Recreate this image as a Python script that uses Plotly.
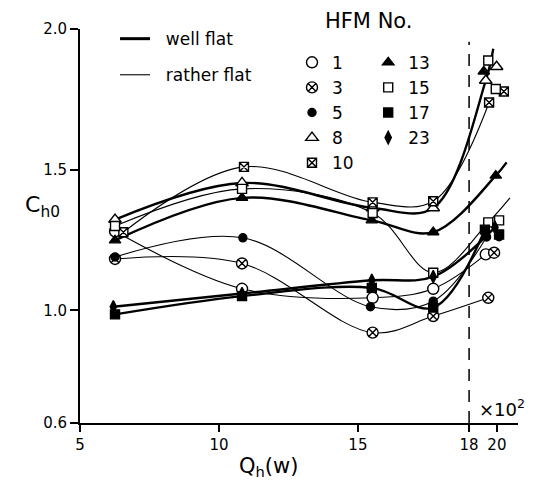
import plotly.graph_objects as go

# ---- data (Q_h in units of 10^2 W, C_h0) ----
S1_X = [6.26, 10.83, 15.53, 17.71, 19.60]
S1_Y = [1.281, 1.077, 1.045, 1.077, 1.199]

S3_X = [6.26, 10.83, 15.53, 17.71, 19.69]
S3_Y = [1.183, 1.167, 0.921, 0.980, 1.045]
S3_EX_X = [19.90]
S3_EX_Y = [1.205]

S5_X = [6.26, 10.86, 15.45, 17.71, 19.63]
S5_Y = [1.190, 1.258, 1.013, 1.033, 1.261]
S5_EX_X = [20.08]
S5_EX_Y = [1.262]

S8_X = [6.26, 10.83, 15.53, 17.71, 19.60]
S8_Y = [1.323, 1.453, 1.364, 1.364, 1.817]
S8_EX_X = [19.99]
S8_EX_Y = [1.866]
S8_TAIL_X = [19.87]
S8_TAIL_Y = [1.930]

S10_X = [6.56, 10.90, 15.53, 17.71, 19.72]
S10_Y = [1.278, 1.510, 1.384, 1.388, 1.739]
S10_EX_X = [20.25]
S10_EX_Y = [1.778]

S13_X = [6.26, 10.83, 15.50, 17.71, 19.96]
S13_Y = [1.249, 1.400, 1.320, 1.278, 1.479]
S13_EX_X = [19.53]
S13_EX_Y = [1.849]
S13_TAIL_X = [20.35]
S13_TAIL_Y = [1.526]

S15_X = [6.26, 10.83, 15.53, 17.71, 19.69]
S15_Y = [1.300, 1.432, 1.346, 1.134, 1.313]
S15_EX_X = [20.08, 19.69, 19.96]
S15_EX_Y = [1.320, 1.888, 1.787]
S15_TAIL_X = [20.47]
S15_TAIL_Y = [1.400]

S17_X = [6.26, 10.83, 15.50, 17.71, 19.57]
S17_Y = [0.986, 1.051, 1.080, 1.010, 1.287]
S17_EX_X = [20.08]
S17_EX_Y = [1.270]

S23_X = [6.20, 10.83, 15.50, 17.71, 19.93]
S23_Y = [1.013, 1.060, 1.107, 1.120, 1.295]

X_TICKS = [5, 10, 15, 19, 20]
X_TICKTEXT = ["5", "10", "15", "18", "20"]
Y_TICKS = [0.6, 1.0, 1.5, 2.0]
Y_TICKTEXT = ["0.6", "1.0", "1.5", "2.0"]
LIMIT_X = 19.0

series = [
    # name, x, y, extra x, extra y, tail x, tail y, symbol, fill, size, thick, legend
    ("1", S1_X, S1_Y, [], [], [], [], "circle", "white", 11, False, "legend"),
    ("3", S3_X, S3_Y, S3_EX_X, S3_EX_Y, [], [], "circle-x", "white", 11, False, "legend"),
    ("5", S5_X, S5_Y, S5_EX_X, S5_EX_Y, [], [], "circle", "black", 8, False, "legend"),
    ("8", S8_X, S8_Y, S8_EX_X, S8_EX_Y, S8_TAIL_X, S8_TAIL_Y, "triangle-up", "white", 11, True, "legend"),
    ("10", S10_X, S10_Y, S10_EX_X, S10_EX_Y, [], [], "square-x", "white", 9, False, "legend"),
    ("13", S13_X, S13_Y, S13_EX_X, S13_EX_Y, S13_TAIL_X, S13_TAIL_Y, "triangle-up", "black", 10, True, "legend3"),
    ("15", S15_X, S15_Y, S15_EX_X, S15_EX_Y, S15_TAIL_X, S15_TAIL_Y, "square", "white", 9, False, "legend3"),
    ("17", S17_X, S17_Y, S17_EX_X, S17_EX_Y, [], [], "square", "black", 9, True, "legend3"),
    ("23", S23_X, S23_Y, [], [], [], [], "diamond-tall", "black", 9, True, "legend3"),
]

fig = go.Figure()

# curves
for name, x, y, ex, ey, tx, ty, sym, fill, size, thick, lg in series:
    fig.add_trace(go.Scatter(
        x=x + tx, y=y + ty, mode="lines",
        line=dict(color="black", width=2.4 if thick else 1.1, shape="spline", smoothing=1.0),
        showlegend=False, hoverinfo="skip"))

# markers
for name, x, y, ex, ey, tx, ty, sym, fill, size, thick, lg in series:
    fig.add_trace(go.Scatter(
        x=x + ex, y=y + ey, mode="markers", name=name, legend=lg,
        marker=dict(symbol=sym, size=size, color=fill, line=dict(color="black", width=1.4)),
        showlegend=True))

# line-style key
fig.add_trace(go.Scatter(x=[None], y=[None], mode="lines", name="  well flat",
                         line=dict(color="black", width=3), legend="legend2", legendgroup="a"))
fig.add_trace(go.Scatter(x=[None], y=[None], mode="lines", name="  rather flat",
                         line=dict(color="black", width=1.1), legend="legend2", legendgroup="b"))

fig.add_shape(type="line", x0=LIMIT_X, x1=LIMIT_X, y0=0.6, y1=1.955,
              line=dict(color="black", width=1.5, dash="12px,9px"), layer="below")

FONT = "DejaVu Sans"
fig.add_annotation(text="HFM No.", x=0.66, y=1.055, xref="paper", yref="paper",
                   showarrow=False, font=dict(size=21, family=FONT, color="black"))
fig.add_annotation(text="C<sub>h0</sub>", x=-0.13, y=0.55, xref="paper", yref="paper",
                   showarrow=False, font=dict(size=22, family=FONT, color="black"))
fig.add_annotation(text="Q<sub>h</sub>(w)", x=0.43, y=-0.15, xref="paper", yref="paper",
                   showarrow=False, font=dict(size=21, family=FONT, color="black"))
fig.add_annotation(text="×10<sup>2</sup>", x=20.2, y=0.605, xanchor="center", yanchor="bottom",
                   showarrow=False, font=dict(size=18, family=FONT, color="black"))

leg_common = dict(bgcolor="rgba(0,0,0,0)", borderwidth=0, xanchor="left", yanchor="top",
                  font=dict(size=17, family=FONT, color="black"))
fig.update_layout(
    width=543, height=485,
    margin=dict(l=80, r=25, t=29, b=62),
    paper_bgcolor="white", plot_bgcolor="white",
    font=dict(family=FONT, color="black", size=15),
    xaxis=dict(range=[5, 20.76], tickvals=X_TICKS, ticktext=X_TICKTEXT, showgrid=False,
               zeroline=False, showline=True, linecolor="black", linewidth=2,
               ticks="outside", ticklen=7, tickwidth=1.5, tickcolor="black",
               tickfont=dict(size=15)),
    yaxis=dict(range=[0.6, 2.0], tickvals=Y_TICKS, ticktext=Y_TICKTEXT, showgrid=False,
               zeroline=False, showline=True, linecolor="black", linewidth=2,
               ticks="outside", ticklen=8, tickwidth=1.5, tickcolor="black",
               tickfont=dict(size=15)),
    legend=dict(x=0.484, y=0.96, **leg_common),
    legend3=dict(x=0.658, y=0.96, **leg_common),
    legend2=dict(x=0.08, y=1.02, tracegroupgap=11, **leg_common),
)

fig.write_html("out.html")
